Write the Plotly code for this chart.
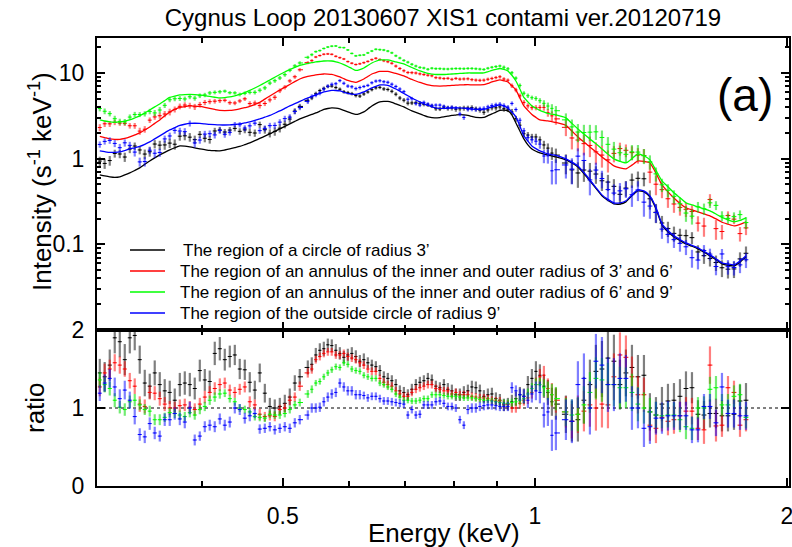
import numpy as np
import plotly.graph_objects as go

# ---------------- data ----------------
# main energy grid (keV)
energy = [0.3023, 0.3107, 0.3194, 0.3283, 0.3374, 0.3468, 0.3565, 0.3664, 0.3767, 0.3872, 0.3980,
          0.4090, 0.4205, 0.4322, 0.4442, 0.4566, 0.4693, 0.4825, 0.4959, 0.5097, 0.5239,
          0.5356, 0.5475, 0.5597, 0.5721, 0.5849, 0.5979, 0.6112, 0.6248, 0.6387, 0.6529,
          0.6674, 0.6823, 0.6975, 0.7130, 0.7289, 0.7451, 0.7616, 0.7786, 0.7959, 0.8136,
          0.8317, 0.8502, 0.8691, 0.8885, 0.9082, 0.9284, 0.9491, 0.9702, 0.9918, 1.0138,
          1.0364, 1.0595,
          1.0890, 1.1255, 1.1633, 1.2024, 1.2427, 1.2844, 1.3275, 1.3720, 1.4181, 1.4657,
          1.5149, 1.5657, 1.6182, 1.6725, 1.7287, 1.7867]

model_r3 = [0.646, 0.613, 0.613, 0.682, 0.780, 0.941, 1.106, 1.265, 1.408, 1.371, 1.299,
            1.248, 1.231, 1.299, 1.389, 1.526, 1.722, 1.944, 2.223, 2.542, 2.908,
            3.151, 3.416, 3.752, 3.906, 3.803, 3.510, 3.281, 3.510, 4.122, 4.590,
            4.652, 4.350, 4.014, 3.606, 3.326, 3.068, 2.987, 3.068, 3.194, 3.264,
            3.194, 3.027, 3.027, 3.326, 3.654, 3.606, 2.612, 1.699, 1.299, 1.167,
            1.106, 1.048,
            0.967, 0.801, 0.550, 0.368, 0.297, 0.313, 0.421, 0.358, 0.169, 0.122,
            0.101, 0.0886, 0.0734, 0.0592, 0.0561, 0.0715]
model_r36 = [1.818, 1.699, 1.677, 1.793, 1.997, 2.346, 2.830, 3.510, 3.960, 4.122, 4.068,
             3.855, 3.654, 3.654, 3.803, 4.068, 4.529, 5.392, 6.334, 7.344, 8.511,
             9.104, 9.478, 9.735, 9.605, 8.983, 8.177, 7.749, 8.511, 9.735, 10.41,
             10.41, 9.867, 9.226, 8.402, 7.749, 7.246, 7.054, 7.054, 7.150, 7.246,
             7.302, 7.246, 7.302, 7.852, 8.286, 7.852, 6.334, 4.122, 3.281, 2.830,
             2.755, 2.647,
             2.442, 1.793, 1.371, 1.048, 0.823, 0.759, 0.941, 0.892, 0.494, 0.348,
             0.267, 0.239, 0.215, 0.181, 0.164, 0.183]
model_r69 = [2.830, 2.683, 2.683, 2.830, 3.151, 3.703, 4.350, 5.180, 5.539, 5.614, 5.539,
             5.320, 5.111, 5.250, 5.614, 6.250, 7.150, 8.286, 9.605, 10.98, 12.23,
             12.91, 13.44, 13.80, 13.80, 13.08, 11.91, 10.70, 11.44, 13.08, 14.18,
             14.18, 13.44, 12.74, 11.59, 10.55, 9.867, 9.605, 9.605, 9.735, 9.867,
             10.00, 10.00, 10.00, 10.70, 11.28, 10.55, 8.067, 5.180, 4.122, 3.654,
             3.371, 3.237,
             2.987, 2.223, 1.699, 1.299, 0.993, 0.892, 1.136, 0.967, 0.550, 0.399,
             0.305, 0.274, 0.246, 0.206, 0.183, 0.204]
model_r9 = [1.231, 1.183, 1.199, 1.299, 1.389, 1.568, 1.842, 2.164, 2.442, 2.577, 2.577,
            2.508, 2.475, 2.475, 2.542, 2.683, 2.908, 3.194, 3.606, 4.122, 4.652,
            5.111, 5.539, 6.003, 6.250, 6.166, 5.766, 5.614, 6.003, 6.685, 7.246,
            7.150, 6.508, 5.766, 5.111, 4.590, 4.178, 3.906, 3.855, 3.906, 3.906,
            3.855, 3.752, 3.752, 4.014, 4.235, 3.906, 3.068, 1.842, 1.408, 1.231,
            1.136, 1.091,
            0.993, 0.823, 0.565, 0.378, 0.305, 0.322, 0.432, 0.368, 0.173, 0.126,
            0.104, 0.0910, 0.0754, 0.0608, 0.0577, 0.0734]

ratio_r3 = [1.45, 1.55, 1.85, 1.90, 1.62, 1.28, 1.30, 1.20, 1.30, 1.30, 1.48,
            1.34, 1.76, 1.66, 1.50, 1.33, 1.45, 1.02, 1.02, 1.14, 1.40,
            1.52, 1.68, 1.76, 1.80, 1.70, 1.68, 1.66, 1.62, 1.55, 1.48,
            1.38, 1.30, 1.20, 1.24, 1.33, 1.38, 1.28, 1.30, 1.22, 1.17,
            1.22, 1.26, 1.15, 1.18, 1.10, 1.05, 1.12, 1.15, 1.38, 1.42,
            1.20, 1.05,
            0.92, 0.85, 1.30, 1.50, 1.60, 1.45, 1.40, 0.95, 1.05, 1.10,
            1.25, 0.92, 0.93, 0.90, 0.92, 1.10]
ratio_r36 = [1.27, 1.50, 1.55, 1.35, 1.05, 1.20, 1.12, 1.00, 1.03, 1.01, 1.05,
             1.20, 1.30, 1.23, 1.24, 1.08, 0.92, 0.90, 0.98, 1.10, 1.28,
             1.45, 1.62, 1.70, 1.72, 1.68, 1.66, 1.62, 1.55, 1.47, 1.38,
             1.30, 1.22, 1.15, 1.20, 1.26, 1.30, 1.25, 1.22, 1.18, 1.17,
             1.17, 1.14, 1.13, 1.10, 1.09, 1.05, 1.00, 1.10, 1.20, 1.40,
             1.25, 1.10,
             0.95, 0.92, 1.04, 1.05, 1.40, 1.65, 1.17, 0.78, 0.88, 0.85,
             0.96, 0.74, 1.55, 0.78, 1.20, 0.85]
ratio_r69 = [1.36, 1.25, 1.01, 1.08, 1.04, 0.96, 0.85, 0.94, 0.91, 0.94, 0.98,
             1.10, 1.18, 1.12, 1.00, 0.95, 0.88, 0.92, 0.91, 0.98, 1.07,
             1.18, 1.32, 1.40, 1.49, 1.52, 1.56, 1.48, 1.42, 1.38, 1.32,
             1.27, 1.18, 1.10, 1.09, 1.10, 1.12, 1.17, 1.16, 1.15, 1.14,
             1.13, 1.12, 1.10, 1.09, 1.07, 1.06, 1.08, 1.12, 1.25, 1.30,
             1.22, 1.12,
             0.95, 0.92, 1.20, 1.36, 1.30, 1.26, 1.05, 0.95, 0.90, 0.91,
             0.76, 1.00, 1.24, 1.04, 1.15, 0.88]
ratio_r9 = [1.19, 1.38, 1.12, 1.10, 0.66, 0.80, 0.64, 0.85, 0.86, 1.00, 0.64,
            0.78, 0.86, 0.82, 0.98, 0.90, 0.73, 0.76, 0.74, 0.74, 0.85,
            0.91, 1.00, 1.08, 1.18, 1.32, 1.22, 1.17, 1.16, 1.15, 1.12,
            1.09, 1.07, 1.05, 0.98, 0.92, 1.04, 1.08, 1.06, 1.02, 0.85,
            0.98, 1.00, 1.03, 1.04, 1.02, 1.02, 1.22, 1.15, 1.18, 1.20,
            0.95, 0.68,
            0.85, 1.30, 1.00, 1.55, 1.30, 1.38, 1.00, 0.76, 0.87, 0.90,
            0.90, 0.72, 1.02, 1.27, 0.93, 0.90]

err_r3 = [0.18, 0.20, 0.20, 0.20, 0.18, 0.16, 0.16, 0.15, 0.15, 0.15, 0.14,
          0.14, 0.15, 0.14, 0.13, 0.13, 0.12, 0.11, 0.11, 0.11, 0.10,
          0.09, 0.09, 0.09, 0.08, 0.08, 0.08, 0.08, 0.08, 0.07, 0.07,
          0.07, 0.07, 0.07, 0.07, 0.07, 0.07, 0.07, 0.07, 0.08, 0.08,
          0.08, 0.08, 0.08, 0.08, 0.08, 0.08, 0.09, 0.10, 0.12, 0.14,
          0.16, 0.20,
          0.24, 0.28, 0.32, 0.36, 0.34, 0.30, 0.28, 0.24, 0.22, 0.22,
          0.22, 0.18, 0.18, 0.20, 0.20, 0.22]
err_r36 = [0.12, 0.12, 0.11, 0.10, 0.10, 0.09, 0.09, 0.09, 0.08, 0.08, 0.08,
           0.08, 0.08, 0.07, 0.07, 0.07, 0.07, 0.06, 0.06, 0.06, 0.06,
           0.06, 0.05, 0.05, 0.05, 0.05, 0.05, 0.05, 0.05, 0.05, 0.05,
           0.05, 0.05, 0.05, 0.05, 0.05, 0.05, 0.05, 0.05, 0.05, 0.05,
           0.05, 0.05, 0.05, 0.05, 0.05, 0.05, 0.06, 0.07, 0.08, 0.10,
           0.13, 0.16,
           0.20, 0.24, 0.28, 0.30, 0.30, 0.28, 0.24, 0.20, 0.18, 0.18,
           0.18, 0.15, 0.24, 0.15, 0.15, 0.15]
err_r69 = [0.10, 0.09, 0.08, 0.08, 0.07, 0.07, 0.07, 0.06, 0.06, 0.06, 0.06,
           0.06, 0.06, 0.05, 0.05, 0.05, 0.05, 0.05, 0.05, 0.05, 0.05,
           0.05, 0.04, 0.04, 0.04, 0.04, 0.04, 0.04, 0.04, 0.04, 0.04,
           0.04, 0.04, 0.04, 0.04, 0.04, 0.04, 0.04, 0.04, 0.04, 0.04,
           0.04, 0.04, 0.04, 0.04, 0.04, 0.05, 0.05, 0.06, 0.07, 0.09,
           0.12, 0.15,
           0.18, 0.22, 0.26, 0.28, 0.28, 0.26, 0.22, 0.18, 0.16, 0.16,
           0.16, 0.14, 0.16, 0.14, 0.14, 0.14]
err_r9 = [0.10, 0.12, 0.12, 0.11, 0.08, 0.08, 0.07, 0.08, 0.08, 0.08, 0.06,
          0.07, 0.07, 0.07, 0.07, 0.07, 0.06, 0.06, 0.06, 0.06, 0.06,
          0.06, 0.06, 0.06, 0.06, 0.06, 0.06, 0.06, 0.05, 0.05, 0.05,
          0.05, 0.05, 0.05, 0.05, 0.05, 0.05, 0.05, 0.05, 0.05, 0.05,
          0.06, 0.06, 0.06, 0.06, 0.06, 0.06, 0.07, 0.09, 0.11, 0.14,
          0.18, 0.22,
          0.26, 0.30, 0.34, 0.36, 0.34, 0.30, 0.26, 0.22, 0.20, 0.18,
          0.18, 0.16, 0.16, 0.18, 0.18, 0.18]

# second (interleaved) set of spectral bins
energy_b = [0.3064, 0.3150, 0.3238, 0.3328, 0.3421, 0.3516, 0.3614, 0.3715, 0.3819, 0.3925,
            0.4035, 0.4147, 0.4263, 0.4382, 0.4504, 0.4630, 0.4759, 0.4891, 0.5028, 0.5168,
            0.5415, 0.5536, 0.5659, 0.5785, 0.5914, 0.6045, 0.6180, 0.6317, 0.6458, 0.6601,
            0.6748, 0.6898, 0.7052, 0.7209, 0.7369, 0.7533, 0.7701, 0.7872, 0.8047, 0.8226,
            0.8409, 0.8596, 0.8787, 0.8983, 0.9183, 0.9387, 0.9596, 0.9809, 1.0028, 1.0251,
            1.0479,
            1.1071, 1.1443, 1.1827, 1.2224, 1.2634, 1.3058, 1.3496, 1.3949, 1.4417, 1.4901,
            1.5401, 1.5918, 1.6452, 1.7004, 1.7575]

model_r3_b = [0.628, 0.605, 0.645, 0.728, 0.857, 1.022, 1.186, 1.340, 1.400, 1.335,
              1.272, 1.238, 1.262, 1.343, 1.455, 1.620, 1.830, 2.080, 2.378, 2.720,
              3.28, 3.58, 3.85, 3.88, 3.66, 3.38, 3.36, 3.80, 4.38, 4.65,
              4.53, 4.18, 3.80, 3.46, 3.19, 3.02, 3.02, 3.13, 3.23, 3.24,
              3.11, 3.02, 3.17, 3.50, 3.68, 3.25, 2.10, 1.45, 1.22, 1.13,
              1.075,
              0.89, 0.67, 0.45, 0.325, 0.295, 0.37, 0.41, 0.26, 0.14, 0.111,
              0.095, 0.081, 0.066, 0.057, 0.062]
model_r36_b = [1.76, 1.675, 1.72, 1.89, 2.16, 2.58, 3.16, 3.76, 4.06, 4.11,
               3.97, 3.75, 3.64, 3.72, 3.93, 4.29, 4.95, 5.85, 6.82, 7.92,
               9.30, 9.62, 9.70, 9.32, 8.57, 7.93, 8.10, 9.10, 10.10, 10.45,
               10.15, 9.55, 8.80, 8.06, 7.49, 7.13, 7.04, 7.10, 7.20, 7.28,
               7.27, 7.27, 7.55, 8.10, 8.10, 7.10, 5.10, 3.66, 3.03, 2.79,
               2.70,
               2.10, 1.56, 1.20, 0.93, 0.78, 0.84, 0.93, 0.68, 0.41, 0.30,
               0.252, 0.227, 0.198, 0.172, 0.171]
model_r69_b = [2.75, 2.66, 2.74, 2.98, 3.41, 4.02, 4.76, 5.38, 5.59, 5.59,
               5.43, 5.21, 5.16, 5.42, 5.91, 6.68, 7.70, 8.92, 10.27, 11.63,
               13.18, 13.62, 13.85, 13.50, 12.50, 11.28, 10.95, 12.25, 13.70, 14.25,
               13.85, 13.10, 12.15, 11.05, 10.20, 9.72, 9.60, 9.67, 9.80, 9.93,
               10.00, 10.00, 10.33, 11.00, 11.00, 9.40, 6.50, 4.60, 3.88, 3.51,
               3.30,
               2.58, 1.94, 1.49, 1.13, 0.93, 1.00, 1.08, 0.73, 0.47, 0.35,
               0.288, 0.260, 0.226, 0.193, 0.190]
model_r9_b = [1.205, 1.185, 1.245, 1.34, 1.47, 1.70, 2.00, 2.30, 2.52, 2.59,
              2.545, 2.49, 2.47, 2.505, 2.61, 2.79, 3.05, 3.39, 3.86, 4.38,
              5.32, 5.77, 6.15, 6.24, 5.97, 5.66, 5.78, 6.34, 6.99, 7.25,
              6.85, 6.13, 5.43, 4.84, 4.37, 4.03, 3.87, 3.87, 3.91, 3.88,
              3.80, 3.75, 3.87, 4.13, 4.10, 3.50, 2.40, 1.60, 1.31, 1.18,
              1.11,
              0.91, 0.69, 0.46, 0.335, 0.305, 0.38, 0.42, 0.27, 0.145, 0.114,
              0.097, 0.083, 0.068, 0.059, 0.064]

ratio_r3_b = [1.40, 1.90, 1.62, 1.93, 1.32, 1.45, 1.22, 1.10, 1.32, 1.25,
              1.36, 1.70, 1.62, 1.68, 1.49, 1.23, 1.19, 1.00, 1.06, 1.32,
              1.56, 1.74, 1.81, 1.74, 1.65, 1.70, 1.60, 1.58, 1.53, 1.40,
              1.35, 1.22, 1.17, 1.30, 1.35, 1.36, 1.26, 1.24, 1.17, 1.20,
              1.27, 1.22, 1.17, 1.12, 1.04, 1.08, 1.17, 1.30, 1.47, 1.28,
              1.08,
              0.83, 1.10, 1.47, 1.64, 1.30, 1.52, 1.42, 0.91, 1.09, 1.15,
              1.26, 0.91, 0.93, 0.90, 1.09]
ratio_r36_b = [1.45, 1.58, 1.50, 1.28, 1.02, 1.19, 1.05, 1.00, 1.04, 0.98,
               1.14, 1.25, 1.32, 1.20, 1.27, 1.04, 0.89, 0.89, 1.00, 1.14,
               1.50, 1.66, 1.72, 1.68, 1.70, 1.64, 1.58, 1.50, 1.47, 1.33,
               1.28, 1.18, 1.15, 1.24, 1.28, 1.30, 1.24, 1.22, 1.20, 1.17,
               1.15, 1.13, 1.12, 1.09, 1.05, 1.00, 1.06, 1.13, 1.30, 1.42,
               1.17,
               0.83, 0.96, 1.00, 1.04, 1.68, 1.40, 1.17, 0.74, 0.83, 0.90,
               0.96, 0.72, 0.77, 1.26, 0.78]
ratio_r69_b = [1.30, 1.10, 0.98, 1.10, 0.98, 0.85, 0.88, 0.93, 0.89, 0.91,
               1.02, 1.14, 1.19, 1.08, 0.98, 0.89, 0.87, 0.91, 0.93, 1.04,
               1.24, 1.34, 1.45, 1.53, 1.58, 1.50, 1.47, 1.40, 1.38, 1.30,
               1.24, 1.14, 1.10, 1.09, 1.12, 1.17, 1.17, 1.15, 1.15, 1.13,
               1.13, 1.11, 1.10, 1.08, 1.06, 1.07, 1.10, 1.18, 1.30, 1.26,
               1.17,
               0.91, 1.04, 1.38, 1.30, 1.26, 1.20, 1.00, 0.91, 0.91, 0.85,
               0.74, 1.00, 1.26, 1.04, 1.17]
ratio_r9_b = [1.32, 1.27, 1.23, 0.89, 0.63, 0.68, 0.85, 0.93, 0.82, 0.59,
              0.76, 0.76, 0.78, 1.00, 0.87, 0.93, 0.74, 0.72, 0.76, 0.81,
              1.00, 1.01, 1.14, 1.20, 1.27, 1.22, 1.17, 1.13, 1.15, 1.09,
              1.08, 1.06, 0.91, 0.91, 1.04, 1.04, 1.09, 1.02, 1.00, 0.78,
              1.00, 1.02, 1.04, 1.03, 1.02, 1.26, 1.17, 1.10, 1.22, 0.91,
              0.65,
              0.83, 1.38, 1.60, 1.30, 1.38, 1.00, 0.74, 0.87, 0.90, 0.90,
              0.72, 1.02, 0.81, 0.93, 0.90]

err_r3_b = [0.19, 0.20, 0.20, 0.19, 0.17, 0.16, 0.15, 0.15, 0.15, 0.14,
            0.14, 0.15, 0.14, 0.13, 0.13, 0.12, 0.12, 0.11, 0.11, 0.10,
            0.09, 0.09, 0.08, 0.08, 0.08, 0.08, 0.08, 0.07, 0.07, 0.07,
            0.07, 0.07, 0.07, 0.07, 0.07, 0.07, 0.07, 0.08, 0.08, 0.08,
            0.08, 0.08, 0.08, 0.08, 0.08, 0.09, 0.10, 0.11, 0.13, 0.15,
            0.18,
            0.26, 0.30, 0.34, 0.35, 0.32, 0.29, 0.26, 0.23, 0.22, 0.22,
            0.20, 0.18, 0.19, 0.20, 0.21]
err_r36_b = [0.12, 0.11, 0.10, 0.10, 0.09, 0.09, 0.09, 0.08, 0.08, 0.08,
             0.08, 0.08, 0.07, 0.07, 0.07, 0.07, 0.06, 0.06, 0.06, 0.06,
             0.06, 0.05, 0.05, 0.05, 0.05, 0.05, 0.05, 0.05, 0.05, 0.05,
             0.05, 0.05, 0.05, 0.05, 0.05, 0.05, 0.05, 0.05, 0.05, 0.05,
             0.05, 0.05, 0.05, 0.05, 0.05, 0.06, 0.07, 0.08, 0.09, 0.12,
             0.15,
             0.22, 0.26, 0.29, 0.30, 0.29, 0.26, 0.22, 0.19, 0.18, 0.18,
             0.17, 0.18, 0.20, 0.15, 0.15]
err_r69_b = [0.10, 0.09, 0.08, 0.08, 0.07, 0.07, 0.06, 0.06, 0.06, 0.06,
             0.06, 0.06, 0.05, 0.05, 0.05, 0.05, 0.05, 0.05, 0.05, 0.05,
             0.05, 0.04, 0.04, 0.04, 0.04, 0.04, 0.04, 0.04, 0.04, 0.04,
             0.04, 0.04, 0.04, 0.04, 0.04, 0.04, 0.04, 0.04, 0.04, 0.04,
             0.04, 0.04, 0.04, 0.04, 0.05, 0.05, 0.06, 0.07, 0.08, 0.11,
             0.14,
             0.20, 0.24, 0.27, 0.28, 0.27, 0.24, 0.20, 0.17, 0.16, 0.16,
             0.15, 0.15, 0.15, 0.14, 0.14]
err_r9_b = [0.11, 0.12, 0.12, 0.10, 0.08, 0.08, 0.08, 0.08, 0.08, 0.07,
            0.07, 0.07, 0.07, 0.07, 0.07, 0.06, 0.06, 0.06, 0.06, 0.06,
            0.06, 0.06, 0.06, 0.06, 0.06, 0.06, 0.06, 0.05, 0.05, 0.05,
            0.05, 0.05, 0.05, 0.05, 0.05, 0.05, 0.05, 0.05, 0.05, 0.05,
            0.06, 0.06, 0.06, 0.06, 0.06, 0.07, 0.08, 0.10, 0.12, 0.16,
            0.20,
            0.28, 0.32, 0.35, 0.35, 0.32, 0.28, 0.24, 0.21, 0.19, 0.18,
            0.17, 0.16, 0.17, 0.18, 0.18]

labels = ["The region of a circle of radius 3’",
          "The region of an annulus of the inner and outer radius of 3’ and 6’",
          "The region of an annulus of the inner and outer radius of 6’ and 9’",
          "The region of the outside circle of radius 9’"]
colors = ["#000000", "#ff0000", "#00ff00", "#0000ff"]
faded = ["rgba(0,0,0,0.5)", "rgba(255,0,0,0.5)", "rgba(0,220,0,0.55)", "rgba(0,0,255,0.5)"]

models = [(model_r3, model_r3_b), (model_r36, model_r36_b), (model_r69, model_r69_b), (model_r9, model_r9_b)]
ratios = [(ratio_r3, ratio_r3_b), (ratio_r36, ratio_r36_b), (ratio_r69, ratio_r69_b), (ratio_r9, ratio_r9_b)]
errs = [(err_r3, err_r3_b), (err_r36, err_r36_b), (err_r69, err_r69_b), (err_r9, err_r9_b)]

# merge the two bin sets in energy order
E_all = np.array(energy + energy_b)
order = np.argsort(E_all)
E = E_all[order]


def merged(pair):
    a, b = pair
    assert len(a) == len(energy) and len(b) == len(energy_b)
    return np.array(list(a) + list(b))[order]


logE = np.log10(E)
d = np.diff(logE)
lo = np.concatenate([[d[0]], d]) * 0.4
hi = np.concatenate([d, [d[-1]]]) * 0.4
xminus = E - 10 ** (logE - lo)
xplus = 10 ** (logE + hi) - E

fig = go.Figure()
for lab, col, fcol, mp, rp, ep in zip(labels, colors, faded, models, ratios, errs):
    m = merged(mp); r = merged(rp); e = merged(ep)
    fig.add_trace(go.Scatter(
        x=E, y=r * m, mode="markers", marker=dict(size=1, color=col),
        error_y=dict(type="data", array=e * m, color=fcol, thickness=2.2, width=0),
        error_x=dict(type="data", array=xplus, arrayminus=xminus, color=col, thickness=1, width=0),
        xaxis="x", yaxis="y", showlegend=False, hoverinfo="skip"))
    fig.add_trace(go.Scatter(
        x=E, y=m, mode="lines", line=dict(color=col, width=1.3, shape="spline", smoothing=0.5),
        name=lab, xaxis="x", yaxis="y", showlegend=False))
    fig.add_trace(go.Scatter(
        x=E, y=r, mode="markers", marker=dict(size=1, color=col),
        error_y=dict(type="data", array=e, color=fcol, thickness=2.2, width=0),
        error_x=dict(type="data", array=xplus, arrayminus=xminus, color=col, thickness=1, width=0),
        xaxis="x2", yaxis="y2", showlegend=False, hoverinfo="skip"))

FONT = "Liberation Sans, Arial, Helvetica, sans-serif"
xr = [np.log10(0.3), np.log10(2.011)]
minor_x = [0.3, 0.4, 0.6, 0.7, 0.8, 0.9]
minor_y = [k * 10.0 ** p for p in (-2, -1, 0) for k in range(2, 10)] + [20]

axis_common = dict(showline=True, linewidth=2, linecolor="black", mirror="allticks",
                   ticks="inside", tickwidth=1.5, tickcolor="black", showgrid=False,
                   zeroline=False, automargin=False)

# hand-drawn legend (line sample + text), in paper coordinates
legend_shapes = []
legend_notes = []
for i, (lab, col) in enumerate(zip(labels, colors)):
    ypx = 250 + 21 * i
    yp = (486 - ypx) / 448
    legend_shapes.append(dict(type="line", xref="paper", yref="paper",
                              x0=(130 - 97) / 692, x1=(165 - 97) / 692, y0=yp, y1=yp,
                              line=dict(color=col, width=1.3)))
    legend_notes.append(dict(text=lab, xref="paper", yref="paper",
                             x=((181 if i == 0 else 178) - 97) / 692, y=yp,
                             xanchor="left", yanchor="middle", showarrow=False,
                             font=dict(size=17, family=FONT, color="black")))

fig.update_layout(
    width=792, height=547,
    margin=dict(l=97, r=3, t=38, b=61),
    paper_bgcolor="white", plot_bgcolor="white",
    font=dict(family=FONT, color="black"),
    showlegend=False,
    title=dict(text="Cygnus Loop 20130607 XIS1 contami ver.20120719",
               x=0.5, xref="paper", xanchor="center",
               y=1 - 18 / 547, yref="container", yanchor="middle",
               font=dict(size=24, family=FONT, color="black")),
    xaxis=dict(type="log", range=xr, domain=[0, 1], anchor="y", showticklabels=False,
               tickvals=[0.5, 1, 2], ticklen=8,
               minor=dict(tickvals=minor_x, ticks="inside", ticklen=5, tickwidth=1.5, tickcolor="black"),
               **axis_common),
    yaxis=dict(type="log", range=[-2, np.log10(25.6)], domain=[0.3482, 1], anchor="x",
               tickvals=[0.1, 1, 10], ticktext=["0.1", "1", "10"], ticklen=8,
               tickfont=dict(size=23), ticklabelstandoff=6,
               minor=dict(tickvals=minor_y, ticks="inside", ticklen=4, tickwidth=1.5, tickcolor="black"),
               **axis_common),
    xaxis2=dict(type="log", range=xr, domain=[0, 1], anchor="y2",
                tickvals=[0.5, 1, 2], ticktext=["0.5", "1", "2"], ticklen=8,
                tickfont=dict(size=23), ticklabelstandoff=8, ticklabeloverflow="allow",
                minor=dict(tickvals=minor_x, ticks="inside", ticklen=5, tickwidth=1.5, tickcolor="black"),
                **axis_common),
    yaxis2=dict(range=[0, 2], domain=[0, 0.3482], anchor="x2",
                tickvals=[0, 1, 2], ticktext=["0", "1", "2"], ticklen=8,
                tickfont=dict(size=23), ticklabelstandoff=6,
                **axis_common),
    shapes=[dict(type="line", xref="x2 domain", x0=0, x1=1, yref="y2", y0=1, y1=1,
                 line=dict(color="black", width=1, dash="dot"), layer="below")] + legend_shapes,
    annotations=[
        dict(text="Intensity (s<sup>-1</sup> keV<sup>-1</sup>)", textangle=-90,
             xref="paper", yref="paper", x=(40 - 97) / 692, y=(486 - 182) / 448,
             xanchor="center", yanchor="middle", showarrow=False, font=dict(size=26)),
        dict(text="ratio", textangle=-90, xref="paper", yref="paper",
             x=(35 - 97) / 692, y=(486 - 408) / 448, xanchor="center", yanchor="middle",
             showarrow=False, font=dict(size=26)),
        dict(text="Energy (keV)", xref="paper", yref="paper",
             x=(444 - 97) / 692, y=(486 - 533) / 448, xanchor="center", yanchor="middle",
             showarrow=False, font=dict(size=26)),
        dict(text="(a)", xref="paper", yref="paper",
             x=(745 - 97) / 692, y=(486 - 95) / 448, xanchor="center", yanchor="middle",
             showarrow=False, font=dict(size=46)),
    ] + legend_notes,
)

fig.write_html("out.html", config={"displayModeBar": False},
               post_script="document.body.style.margin='0px';")
